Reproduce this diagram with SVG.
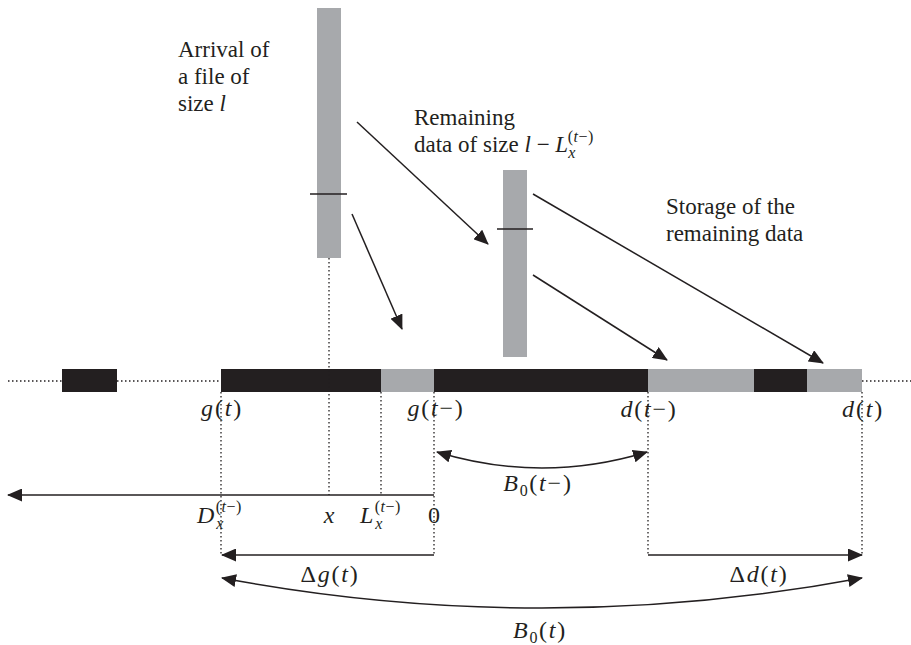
<svg xmlns="http://www.w3.org/2000/svg" width="911" height="645" viewBox="0 0 911 645">
<style>
.t{font-family:"Liberation Serif","Times New Roman",Times,serif;font-size:23px;fill:#231f20}
.m{font-family:"Liberation Serif","Times New Roman",Times,serif;font-size:24px;fill:#231f20;letter-spacing:1.8px}
.c{text-anchor:middle}
.i{font-style:italic}
.s{font-size:16px;letter-spacing:0.5px}
.blk{fill:#231f20}
.gry{fill:#a7a9ac}
.dot{stroke:#231f20;stroke-width:1.3;stroke-dasharray:1.5 2.5;fill:none}
.ln{stroke:#231f20;stroke-width:1.5;fill:none}
.tk{stroke:#231f20;stroke-width:1.5}
</style>
<defs>
<marker id="ah" viewBox="0 0 15 13" refX="14" refY="6.5" markerWidth="15" markerHeight="13" markerUnits="userSpaceOnUse" orient="auto-start-reverse"><path d="M0,0 L15,6.5 L0,13 z" fill="#231f20"/></marker>
</defs>
<g id="timeline">
<path class="dot" d="M8,381 H62 M117,381 H221 M862,381 H911"/>
<rect class="blk" x="62" y="369" width="55" height="23"/>
<rect class="blk" x="221" y="369" width="160" height="23"/>
<rect class="gry" x="381" y="369" width="53" height="23"/>
<rect class="blk" x="434" y="369" width="214" height="23"/>
<rect class="gry" x="648" y="369" width="106" height="23"/>
<rect class="blk" x="754" y="369" width="53" height="23"/>
<rect class="gry" x="807" y="369" width="55" height="23"/>
</g>
<g id="file-bar">
<rect class="gry" x="317" y="8" width="24" height="250"/>
<line class="tk" x1="310" y1="194" x2="347" y2="194"/>
</g>
<g id="remaining-bar">
<rect class="gry" x="503" y="170" width="24" height="187"/>
<line class="tk" x1="497" y1="229" x2="533" y2="229"/>
</g>
<g id="guides">
<path class="dot" d="M329,258 V495 M221,392 V555 M381,392 V495 M434,392 V555 M648,392 V555 M862,392 V555"/>
</g>
<g id="connectors">
<line class="ln" x1="357" y1="122" x2="488" y2="244" marker-end="url(#ah)"/>
<line class="ln" x1="352" y1="214" x2="402" y2="329" marker-end="url(#ah)"/>
<line class="ln" x1="533" y1="275" x2="667" y2="360" marker-end="url(#ah)"/>
<line class="ln" x1="533" y1="194" x2="823" y2="363" marker-end="url(#ah)"/>
<line class="ln" x1="434" y1="495" x2="8" y2="495" marker-end="url(#ah)"/>
<line class="ln" x1="434" y1="555" x2="222" y2="555" marker-end="url(#ah)"/>
<line class="ln" x1="648" y1="555" x2="862" y2="555" marker-end="url(#ah)"/>
<path class="ln" d="M437,452 Q542,484 647,452" marker-start="url(#ah)" marker-end="url(#ah)"/>
<path class="ln" d="M222,578 Q542,638 862,578" marker-start="url(#ah)" marker-end="url(#ah)"/>
</g>
<g id="labels">
<text class="t" x="178" y="57">Arrival of</text>
<text class="t" x="178" y="84">a file of</text>
<text class="t" x="178" y="111">size <tspan class="i">l</tspan></text>
<text class="t" x="414" y="125">Remaining</text>
<text class="t" x="414" y="152">data of size <tspan class="i">l</tspan> − <tspan class="i">L</tspan><tspan class="s i" dy="6">x</tspan><tspan class="s" dx="-8" dy="-16">(</tspan><tspan class="s i">t</tspan><tspan class="s">−)</tspan></text>
<text class="t" x="666" y="214">Storage of the</text>
<text class="t" x="666" y="241">remaining data</text>
<text class="m c" x="222" y="416"><tspan class="i">g</tspan>(<tspan class="i">t</tspan>)</text>
<text class="m c" x="436" y="416"><tspan class="i">g</tspan>(<tspan class="i">t</tspan>−)</text>
<text class="m c" x="649" y="417"><tspan class="i">d</tspan>(<tspan class="i">t</tspan>−)</text>
<text class="m c" x="863" y="417"><tspan class="i">d</tspan>(<tspan class="i">t</tspan>)</text>
<text class="m c" x="538" y="491"><tspan class="i">B</tspan><tspan class="s" dy="5">0</tspan><tspan dy="-5" dx="1">(</tspan><tspan class="i">t</tspan>−)</text>
<text class="m" x="197" y="523"><tspan class="i">D</tspan><tspan class="s i" dy="6">x</tspan><tspan class="s" dx="-8" dy="-17">(</tspan><tspan class="s i">t</tspan><tspan class="s">−)</tspan></text>
<text class="m c i" x="330" y="523">x</text>
<text class="m" x="360" y="523"><tspan class="i">L</tspan><tspan class="s i" dy="6">x</tspan><tspan class="s" dx="-8" dy="-17">(</tspan><tspan class="s i">t</tspan><tspan class="s">−)</tspan></text>
<text class="m c" x="435" y="523">0</text>
<text class="m c" x="330" y="582">Δ<tspan class="i">g</tspan>(<tspan class="i">t</tspan>)</text>
<text class="m c" x="759" y="582">Δ<tspan class="i">d</tspan>(<tspan class="i">t</tspan>)</text>
<text class="m c" x="540" y="638"><tspan class="i">B</tspan><tspan class="s" dy="5">0</tspan><tspan dy="-5" dx="1">(</tspan><tspan class="i">t</tspan>)</text>
</g>
</svg>
